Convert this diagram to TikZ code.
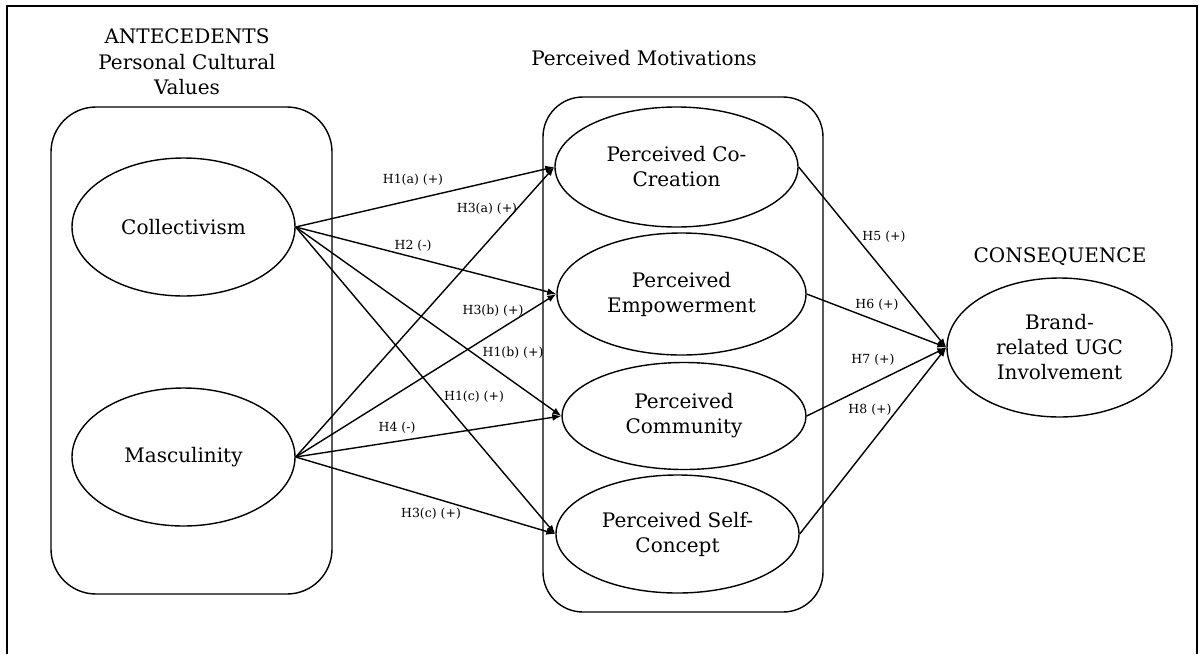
\documentclass[tikz,border=0pt]{standalone}
\usepackage{fontspec}
\setmainfont{DejaVu Serif}
\usetikzlibrary{arrows.meta,shapes.geometric}

\begin{document}
\begin{tikzpicture}[
    x=1pt, y=-1pt,
    line width=1.4pt,
    >={Latex[length=9pt,width=7pt]},
    ell/.style={draw, ellipse, inner sep=0pt, align=center,
      font=\fontsize{20}{25}\selectfont},
    head/.style={align=center, font=\fontsize{20}{25.5}\selectfont},
    hyp/.style={font=\fontsize{12.5}{14}\selectfont, inner sep=1pt},
    path/.style={->}
  ]

  % --- 1. 枠 ---
  \useasboundingbox (0,0) rectangle (1199,654);
  \draw[line width=2pt] (7,654) -- (7,6) -- (1197,6) -- (1197,654);

  % --- 2. グループの角丸枠と見出し ---
  \draw[rounded corners=45pt] (51,107) rectangle (332,594);
  \draw[rounded corners=40pt] (543,97) rectangle (823,612);
  \node[head] (antTitle) at (187,62) {ANTECEDENTS\\Personal Cultural\\Values};
  \node[head] (motTitle) at (644,58) {Perceived Motivations};
  \node[head] (conTitle) at (1060,257) {CONSEQUENCE};

  % --- 3. 構成概念（楕円） ---
  \node[ell, minimum width=223pt, minimum height=138pt] (coll) at (183.5,227) {Collectivism};
  \node[ell, minimum width=223pt, minimum height=138pt] (masc) at (183.5,457) {Masculinity};

  \node[ell, minimum width=243pt, minimum height=120pt] (cocr) at (676.5,167) {Perceived Co-\\Creation};
  \node[ell, minimum width=249pt, minimum height=122pt] (empw) at (681.5,294) {Perceived\\Empowerment};
  \node[ell, minimum width=244pt, minimum height=107pt] (comm) at (684,416) {Perceived\\Community};
  \node[ell, minimum width=243pt, minimum height=118pt] (self) at (677.5,534) {Perceived Self-\\Concept};

  \node[ell, minimum width=225pt, minimum height=139pt] (ugc) at (1059.5,347.5) {Brand-\\related UGC\\Involvement};

  % --- 4. 仮説の矢印 ---
  % Collectivism から
  \draw[path] (coll.east) -- (cocr.west);
  \draw[path] (coll.east) -- (empw.west);
  \draw[path] (coll.east) -- (comm.west);
  \draw[path] (coll.east) -- (self.west);
  % Masculinity から
  \draw[path] (masc.east) -- (cocr.west);
  \draw[path] (masc.east) -- (empw.west);
  \draw[path] (masc.east) -- (comm.west);
  \draw[path] (masc.east) -- (self.west);
  % 動機 -> UGC
  \foreach \src in {cocr, empw, comm, self}
    \draw[path] (\src.east) -- (ugc.west);

  % --- 5. 仮説ラベル ---
  \node[hyp] (h1a) at (413,180) {H1(a) (+)};
  \node[hyp] (h3a) at (487,209) {H3(a) (+)};
  \node[hyp] (h2)  at (413,246) {H2 (-)};
  \node[hyp] (h3b) at (493,311) {H3(b) (+)};
  \node[hyp] (h1b) at (513,353) {H1(b) (+)};
  \node[hyp] (h1c) at (474,397) {H1(c) (+)};
  \node[hyp] (h4)  at (397,428) {H4 (-)};
  \node[hyp] (h3c) at (431,514) {H3(c) (+)};

  \node[hyp] (h5) at (884,237) {H5 (+)};
  \node[hyp] (h6) at (877,305) {H6 (+)};
  \node[hyp] (h7) at (873,360) {H7 (+)};
  \node[hyp] (h8) at (870,410) {H8 (+)};

\end{tikzpicture}
\end{document}
